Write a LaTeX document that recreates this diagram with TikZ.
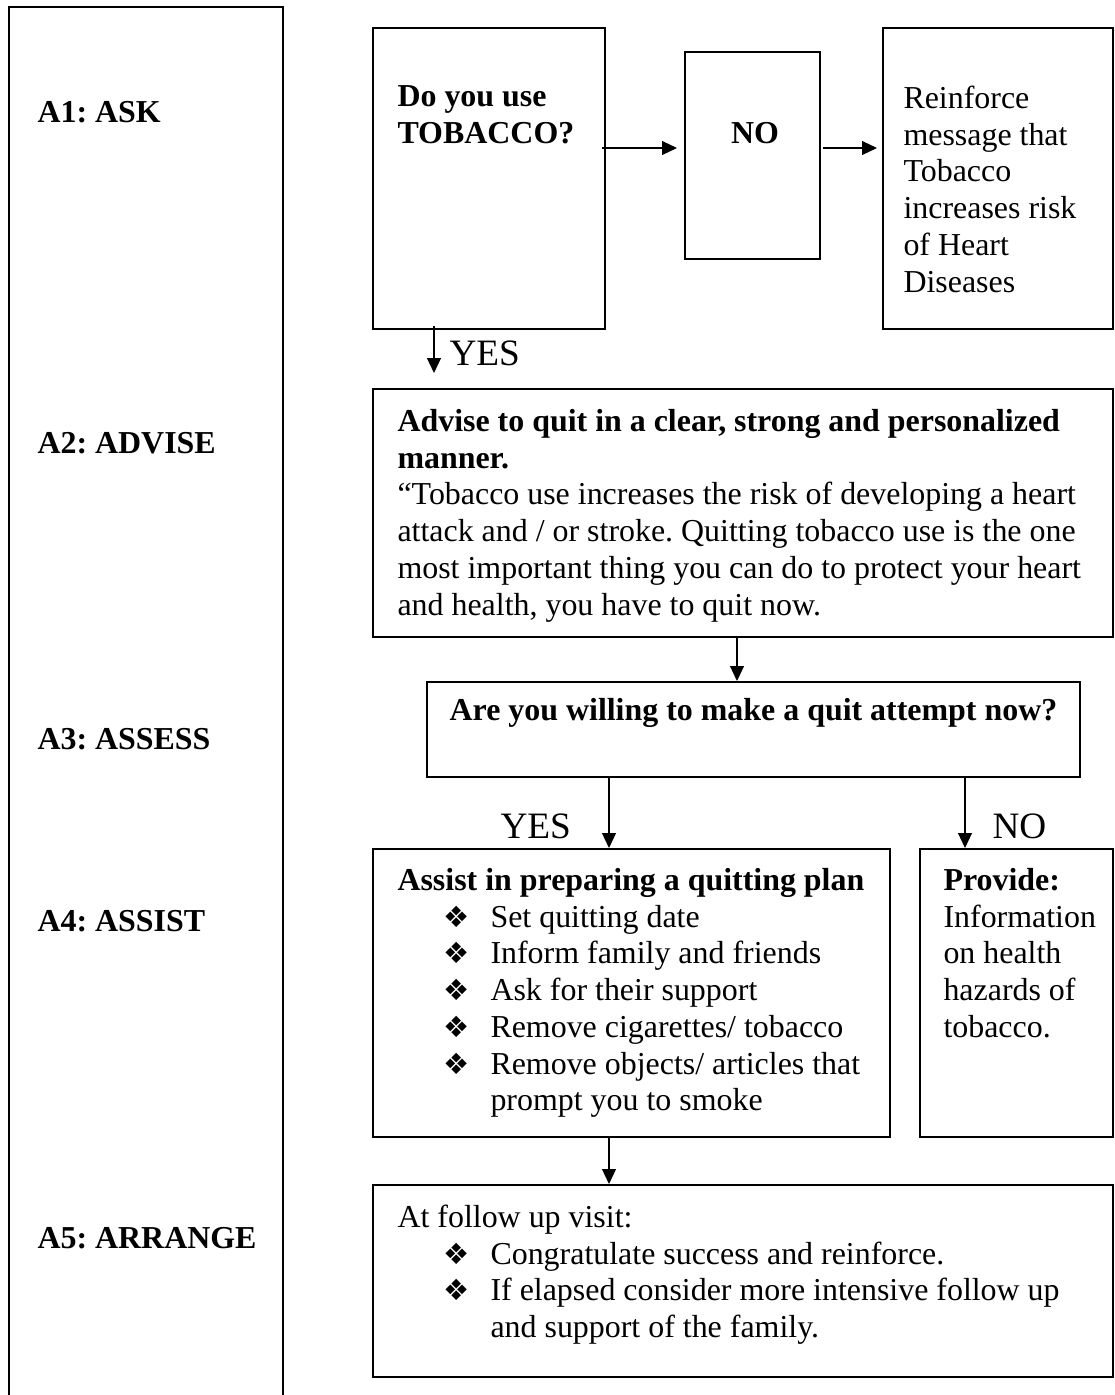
\documentclass[tikz,border=0pt]{standalone}
\usepackage{fontspec}
\setmainfont{Liberation Serif}
\newfontfamily\symfont{DejaVu Sans}
\usetikzlibrary{arrows.meta,fit}
\frenchspacing
\newdimen\px \px=0.37594pt
\newcommand{\bul}{{\symfont\fontsize{11}{12}\selectfont ❖}}
\newcommand{\li}[1]{\hspace*{46\px}\makebox[47\px][l]{\bul}#1}
\newcommand{\lc}[1]{\hspace*{93\px}#1}
\tikzset{
  box/.style={draw, line width=0.75pt, inner sep=0pt},
  conn/.style={line width=0.5pt, -{Triangle[length=5.6pt,width=5.2pt]}},
  txt/.style={inner sep=0pt, anchor=north west, yshift=9.66pt, align=left, font=\fontsize{12}{13.8}\selectfont\frenchspacing},
  txtb/.style={txt, font=\fontsize{12}{13.8}\selectfont\bfseries\frenchspacing},
  lbl/.style={inner sep=0pt, anchor=base west, font=\fontsize{12}{13.8}\selectfont\bfseries\frenchspacing},
  yn/.style={inner sep=0pt, anchor=base west, font=\fontsize{14}{16}\selectfont}
}
\begin{document}
\begin{tikzpicture}[x=0.37594pt, y=-0.37594pt]
\useasboundingbox (0,0) rectangle (1115,1395);
\clip (0,0) rectangle (1115,1395);
% boxes
\node[box, fit={(9,7) (283,1420)}] (col) {};
\node[box, fit={(373,28) (605,329)}] (ask) {};
\node[box, fit={(685,52) (820,259)}] (no) {};
\node[box, fit={(883,28) (1113,329)}] (reinf) {};
\node[box, fit={(373,389) (1113,637)}] (advise) {};
\node[box, fit={(427,682) (1080,777)}] (assess) {};
\node[box, fit={(373,849) (890,1137)}] (assist) {};
\node[box, fit={(920,849) (1113,1137)}] (provide) {};
\node[box, fit={(373,1185) (1113,1377)}] (arrange) {};
% stage labels
\node[lbl] (l1) at (37,122) {A1: ASK};
\node[lbl] (l2) at (37,453) {A2: ADVISE};
\node[lbl] (l3) at (37,749) {A3: ASSESS};
\node[lbl] (l4) at (37,931) {A4: ASSIST};
\node[lbl] (l5) at (37,1248) {A5: ARRANGE};
% texts
\node[txtb] (t1) at (397,106) {\strut Do you use\\TOBACCO?};
\node[lbl, anchor=base] (t2) at (755,143) {NO};
\node[txt] (t3) at (903,108) {\strut Reinforce\\message that\\Tobacco\\increases risk\\of Heart\\Diseases};
\node[yn] (y1) at (449,365) {YES};
\node[txt] (t4) at (397,431) {\strut\textbf{Advise to quit in a clear, strong and personalized}\\\textbf{manner.}\\“Tobacco use increases the risk of developing a heart\\attack and / or stroke. Quitting tobacco use is the one\\most important thing you can do to protect your heart\\and health, you have to quit now.};
\node[lbl, anchor=base] (t5) at (753.5,720) {Are you willing to make a quit attempt now?};
\node[yn] (y2) at (500,838) {YES};
\node[yn] (n2) at (992,838) {NO};
\node[txt] (t6) at (397,890) {\strut\textbf{Assist in preparing a quitting plan}\\\li{Set quitting date}\\\li{Inform family and friends}\\\li{Ask for their support}\\\li{Remove cigarettes/ tobacco}\\\li{Remove objects/ articles that}\\\lc{prompt you to smoke}};
\node[txt] (t7) at (943,890) {\strut\textbf{Provide:}\\Information\\on health\\hazards of\\tobacco.};
\node[txt] (t8) at (397,1227) {\strut At follow up visit:\\\li{Congratulate success and reinforce.}\\\li{If elapsed consider more intensive follow up}\\\lc{and support of the family.}};
% connectors
\coordinate (a1) at ([shift={(-4,-30.5)}]ask.east);
\draw[conn, shorten >=7\px] (a1) -- (a1 -| no.west);
\coordinate (a2) at ([shift={(2,-7.5)}]no.east);
\draw[conn, shorten >=5\px] (a2) -- (a2 -| reinf.west);
\coordinate (a3) at ([shift={(-55,-4)}]ask.south);
\draw[conn, shorten >=15\px] (a3) -- (a3 |- advise.north);
\coordinate (a4) at ([shift={(-6,0)}]advise.south);
\draw[conn] (a4) -- (a4 |- assess.north);
\coordinate (a5) at ([shift={(-22.5,0)}]assist.north);
\draw[conn] (a5 |- assess.south) -- (a5);
\coordinate (a6) at ([shift={(-51.5,0)}]provide.north);
\draw[conn] (a6 |- assess.south) -- (a6);
\draw[conn] (a5 |- assist.south) -- (a5 |- arrange.north);
\end{tikzpicture}
\end{document}
